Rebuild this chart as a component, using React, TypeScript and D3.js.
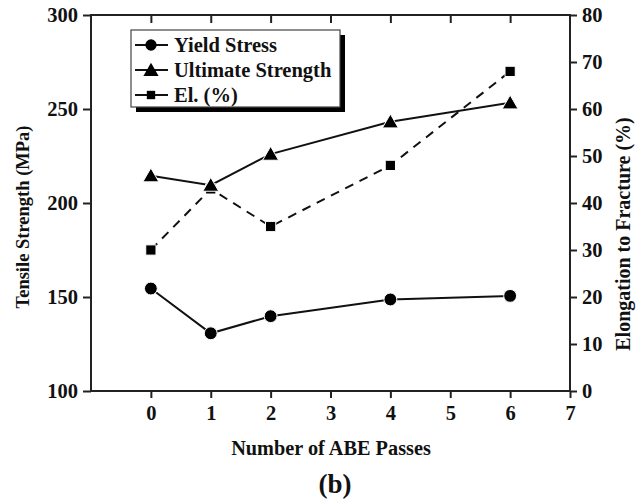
import React, { useEffect, useRef } from 'react';
import * as d3 from 'd3';

// data
const passes = [0, 1, 2, 4, 6];
const yieldStress = [154.5, 130.7, 139.8, 148.7, 150.6];
const ultimateStrength = [214.5, 209.5, 226, 243.2, 253.3];
const elongation = [30, 43, 35, 48, 68];
const leftTicks = [100, 150, 200, 250, 300];
const rightTicks = [0, 10, 20, 30, 40, 50, 60, 70, 80];
const xTicks = [0, 1, 2, 3, 4, 5, 6, 7];

const FONT = '"Liberation Serif", "Times New Roman", serif';

const App = () => {
  const svgRef = useRef<SVGSVGElement>(null);

  useEffect(() => {
    const svg = d3.select(svgRef.current);
    svg.selectAll('*').remove();

    const left = 91, right = 570, top = 15, bottom = 391;

    const x = d3.scaleLinear().domain([-1, 7]).range([left, right]);
    const yL = d3.scaleLinear().domain([100, 300]).range([bottom, top]);
    const yR = d3.scaleLinear().domain([0, 80]).range([bottom, top]);

    const g = svg.append('g');

    const axisStyle = (sel: any) => {
      sel.select('.domain').remove();
      sel.selectAll('line').attr('stroke', '#222').attr('stroke-width', 2);
      sel.selectAll('text')
        .attr('font-family', FONT)
        .attr('font-weight', 'bold')
        .attr('font-size', 20.5)
        .attr('fill', '#111');
    };

    // bottom axis
    g.append('g')
      .attr('transform', `translate(0,${bottom})`)
      .call(d3.axisBottom(x).tickValues(xTicks).tickSize(7).tickPadding(7).tickFormat(d3.format('d')))
      .call(axisStyle);

    // top inward ticks
    g.append('g')
      .attr('transform', `translate(0,${top})`)
      .call(d3.axisBottom(x).tickValues([0, 1, 2, 3, 4, 5, 6]).tickSize(8).tickFormat(() => ''))
      .call(axisStyle);

    // left axis
    g.append('g')
      .attr('transform', `translate(${left},0)`)
      .call(d3.axisLeft(yL).tickValues(leftTicks).tickSize(8).tickPadding(5))
      .call(axisStyle);

    // right axis
    g.append('g')
      .attr('transform', `translate(${right},0)`)
      .call(d3.axisRight(yR).tickValues(rightTicks).tickSize(7).tickPadding(5))
      .call(axisStyle);

    // box
    g.append('path')
      .attr('d', `M${left},${top}H${right}V${bottom}H${left}Z`)
      .attr('fill', 'none')
      .attr('stroke', '#222')
      .attr('stroke-width', 2);

    const lineStroke = '#111';

    const yieldPts = passes.map((p, i) => [x(p), yL(yieldStress[i])] as [number, number]);
    const ultPts = passes.map((p, i) => [x(p), yL(ultimateStrength[i])] as [number, number]);
    const elPts = passes.map((p, i) => [x(p), yR(elongation[i])] as [number, number]);

    const line = d3.line();

    g.append('path').attr('d', line(elPts)).attr('fill', 'none')
      .attr('stroke', lineStroke).attr('stroke-width', 2).attr('stroke-dasharray', '9,7');
    g.append('path').attr('d', line(ultPts)).attr('fill', 'none')
      .attr('stroke', lineStroke).attr('stroke-width', 2);
    g.append('path').attr('d', line(yieldPts)).attr('fill', 'none')
      .attr('stroke', lineStroke).attr('stroke-width', 2);

    const circle = d3.symbol().type(d3.symbolCircle).size(130);
    const tri = d3.symbol().type(d3.symbolTriangle).size(110);
    const sq = d3.symbol().type(d3.symbolSquare).size(105);

    g.selectAll('.el').data(elPts).enter().append('path')
      .attr('transform', d => `translate(${d[0]},${d[1]})`)
      .attr('d', sq()).attr('fill', '#000').attr('stroke', '#fff').attr('stroke-width', 1);
    g.selectAll('.ult').data(ultPts).enter().append('path')
      .attr('transform', d => `translate(${d[0]},${d[1] + 1.5})`)
      .attr('d', tri()).attr('fill', '#000').attr('stroke', '#fff').attr('stroke-width', 1);
    g.selectAll('.ys').data(yieldPts).enter().append('path')
      .attr('transform', d => `translate(${d[0]},${d[1]})`)
      .attr('d', circle()).attr('fill', '#000').attr('stroke', '#fff').attr('stroke-width', 1);

    // legend
    const lg = svg.append('g');
    const lx = 131, ly = 30, lw = 209, lh = 77;
    lg.append('rect').attr('x', lx + 5).attr('y', ly + 5).attr('width', lw).attr('height', lh).attr('fill', '#000');
    lg.append('rect').attr('x', lx).attr('y', ly).attr('width', lw).attr('height', lh)
      .attr('fill', '#fff').attr('stroke', '#444').attr('stroke-width', 1.2);
    const items = [
      { label: 'Yield Stress', sym: circle },
      { label: 'Ultimate Strength', sym: tri },
      { label: 'El. (%)', sym: sq },
    ];
    items.forEach((it, i) => {
      const cy = ly + 15 + i * 25;
      lg.append('line').attr('x1', lx + 4).attr('x2', lx + 37).attr('y1', cy).attr('y2', cy)
        .attr('stroke', '#111').attr('stroke-width', 2);
      lg.append('path').attr('transform', `translate(${lx + 20},${cy + (i === 1 ? 1.5 : 0)})`)
        .attr('d', it.sym.size(i === 2 ? 70 : 100)()).attr('fill', '#000');
      lg.append('text').attr('x', lx + 43).attr('y', cy).attr('dy', '0.35em')
        .attr('font-family', FONT).attr('font-weight', 'bold').attr('font-size', 20.5)
        .attr('fill', '#111').text(it.label);
    });

    // axis titles
    svg.append('text')
      .attr('transform', `translate(23,217) rotate(-90)`)
      .attr('text-anchor', 'middle').attr('dy', '0.35em')
      .attr('font-family', FONT).attr('font-weight', 'bold').attr('font-size', 18.5)
      .attr('fill', '#111').text('Tensile Strength (MPa)');
    svg.append('text')
      .attr('transform', `translate(623,234) rotate(-90)`)
      .attr('text-anchor', 'middle').attr('dy', '0.35em')
      .attr('font-family', FONT).attr('font-weight', 'bold').attr('font-size', 20)
      .attr('fill', '#111').text('Elongation to Fracture (%)');
    svg.append('text')
      .attr('x', 331).attr('y', 448).attr('dy', '0.35em')
      .attr('text-anchor', 'middle')
      .attr('font-family', FONT).attr('font-weight', 'bold').attr('font-size', 20.3)
      .attr('fill', '#111').text('Number of ABE Passes');
    svg.append('text')
      .attr('x', 335).attr('y', 484).attr('dy', '0.35em')
      .attr('text-anchor', 'middle')
      .attr('font-family', FONT).attr('font-weight', 'bold').attr('font-size', 27)
      .attr('fill', '#111').text('(b)');
  }, []);

  return (
    <svg ref={svgRef} width={643} height={499} viewBox="0 0 643 499"
      style={{ position: 'absolute', left: 0, top: 0, background: 'white', display: 'block' }} />
  );
};

export default App;
